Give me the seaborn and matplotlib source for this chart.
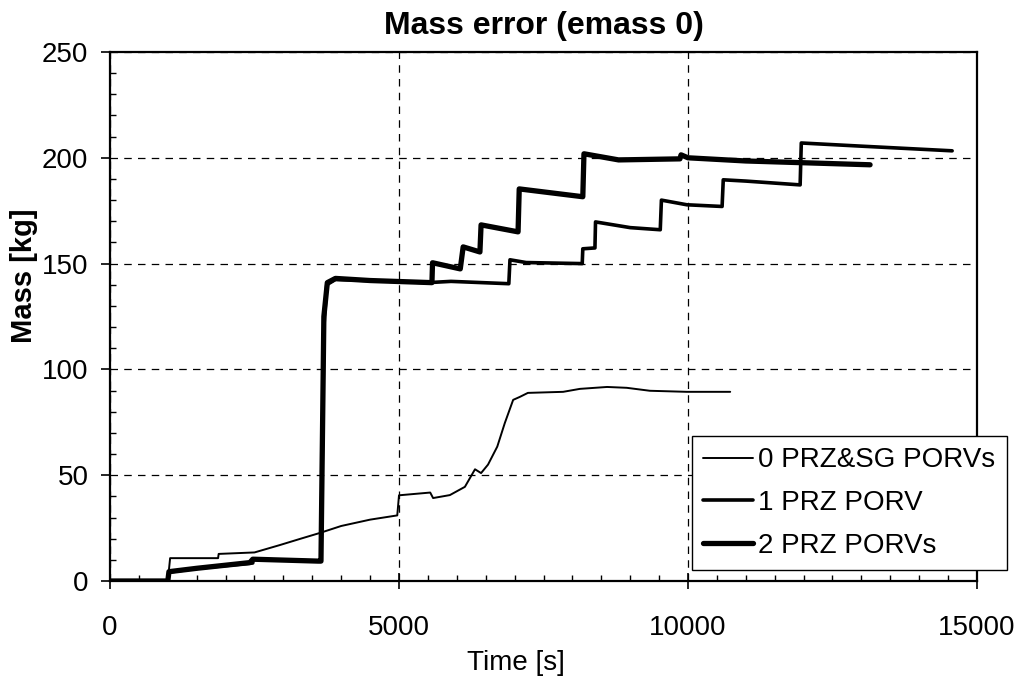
import numpy as np
import pandas as pd
import matplotlib
matplotlib.use("Agg")
import matplotlib.pyplot as plt
import seaborn as sns
from matplotlib.ticker import MultipleLocator

# 0 PRZ&SG PORVs (thin)
t0 = [0, 1000, 1040, 1870, 1880, 2500, 2940, 3300, 3630, 4000, 4500, 4970, 5000,
      5540, 5590, 5880, 6140, 6315, 6420, 6540, 6700, 6830, 6975, 7090, 7230,
      7840, 8130, 8600, 8940, 9340, 9980, 10730]
m0 = [0, 0, 10.8, 10.8, 12.8, 13.5, 17, 20, 22.7, 26, 29, 31, 40.5,
      41.8, 39.2, 40.6, 44.5, 52.8, 51, 55, 63.5, 74.6, 85.6, 87, 88.9,
      89.4, 90.8, 91.7, 91.3, 89.9, 89.4, 89.4]

# 1 PRZ PORV (medium)
t1 = [0, 1000, 1020, 1500, 2470, 2480, 3600, 3650, 3700, 3750, 3900, 4500, 5500,
      5900, 6900, 6920, 7200, 8170, 8180, 8390, 8400, 9000, 9520, 9540, 9980,
      10590, 10610, 11000, 11940, 11960, 13000, 14570]
m1 = [0, 0, 4.2, 6, 8.5, 10.3, 9.4, 9.4, 120, 140, 142.5, 142, 141,
      141.6, 140.5, 151.8, 150.5, 150, 157, 157.4, 169.7, 167, 166, 180, 177.8,
      177, 189.6, 189, 187.2, 207, 205.5, 203.3]

# 2 PRZ PORVs (thick)
t2 = [0, 1000, 1020, 1500, 2420, 2470, 3600, 3650, 3700, 3760, 3900, 4500, 5570,
      5580, 6060, 6110, 6400, 6420, 7060, 7080, 8180, 8200, 8800, 9860, 9880,
      10000, 11000, 13150]
m2 = [0, 0, 4.4, 6, 8.7, 10.3, 9.4, 9.4, 125, 141, 143, 142, 141,
      150.4, 147.5, 157.9, 155.5, 168.3, 165, 185.3, 181.6, 201.9, 199, 199.5, 201.4,
      200, 198.5, 196.7]

labels = ["0 PRZ&SG PORVs", "1 PRZ PORV", "2 PRZ PORVs"]
widths = [1.4, 2.6, 3.8]

sns.set_style("ticks")
plt.rcParams["font.family"] = ["Liberation Sans", "DejaVu Sans"]
plt.rcParams.update({"text.color": "black", "axes.labelcolor": "black",
                     "xtick.color": "black", "ytick.color": "black"})

fig = plt.figure(figsize=(10.2, 6.82), dpi=100)
ax = fig.add_axes([110 / 1020, 1 - 581 / 682, 867 / 1020, 529 / 682])

for t, m, lab, lw in zip([t0, t1, t2], [m0, m1, m2], labels, widths):
    df = pd.DataFrame({"Time": t, "Mass": m})
    sns.lineplot(data=df, x="Time", y="Mass", ax=ax, color="black", lw=lw,
                 sort=False, estimator=None, label=lab)

ax.set_xlim(0, 15000)
ax.set_ylim(0, 250)
ax.xaxis.set_major_locator(MultipleLocator(5000))
ax.xaxis.set_minor_locator(MultipleLocator(500))
ax.yaxis.set_major_locator(MultipleLocator(50))
ax.yaxis.set_minor_locator(MultipleLocator(10))
ax.tick_params(axis="x", which="major", direction="inout", length=12, width=1.2,
               labelsize=20, pad=18.5)
ax.tick_params(axis="y", which="major", direction="out", length=6.5, width=1.2,
               labelsize=20, pad=9)
ax.tick_params(which="minor", direction="in", length=4, width=1)
ax.grid(True, which="major", color="black", lw=0.9, ls=(0, (6, 5)))
for sp in ax.spines.values():
    sp.set_visible(True)
    sp.set_color("black")
    sp.set_linewidth(1.6)

ax.set_xlabel("Time [s]", fontsize=20)
ax.xaxis.set_label_coords(0.468, -0.130)
ax.set_ylabel("Mass [kg]", fontsize=21, fontweight="bold")
ax.yaxis.set_label_coords(-0.083, 0.577)
ax.set_title("Mass error (emass 0)", fontsize=23, fontweight="bold", pad=13)

leg = ax.legend(loc="lower left", bbox_to_anchor=(0.671, 0.021), fontsize=20,
                frameon=True, fancybox=False, edgecolor="black", framealpha=1,
                handlelength=1.8, handletextpad=0.2, borderpad=0.4,
                labelspacing=0.6, borderaxespad=0)
leg.get_frame().set_linewidth(1.0)

fig.savefig("out.png", dpi=100)
